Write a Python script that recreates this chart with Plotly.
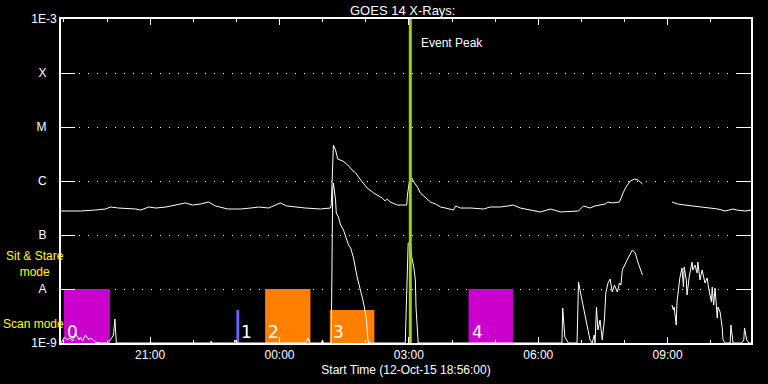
import pandas as pd
import plotly.graph_objects as go

START = pd.Timestamp("2015-10-12 18:56:00")

# ---- GOES long channel (1-8 A): minutes after start, flux W/m^2 ----
long_min = [0, 14, 27, 48, 62, 69, 80, 104, 111, 122, 132, 146, 166, 173, 183, 194, 205, 215,
            232, 250, 264, 275, 289, 305, 314, 326, 340, 361, 372, 375, 376, 378, 379, 382, 385,
            392, 399, 405, 410, 417, 426, 435, 447, 451, 454, 458, 468, 481, 482, 485, 488, 490,
            496, 500, 507, 514, 521, 528, 535, 542, 546, 549, 556, 570, 588, 597, 611, 622, 629,
            639, 653, 667, 681, 695, 720, 727, 736, 743, 757, 761, 767, 777, 782, 786, 792, 798,
            803, 809, 830, 850, 858, 868, 878, 889, 903, 914, 924, 931, 935, 940, 952, 960]
long_flux = [2.78e-7, 2.78e-7, 2.78e-7, 2.90e-7, 3.03e-7, 3.30e-7, 3.16e-7, 3.03e-7, 2.90e-7,
             3.30e-7, 3.16e-7, 3.30e-7, 3.75e-7, 3.92e-7, 3.59e-7, 3.75e-7, 4.08e-7, 3.45e-7,
             3.03e-7, 3.03e-7, 3.16e-7, 3.30e-7, 3.16e-7, 3.92e-7, 3.45e-7, 3.30e-7, 3.16e-7,
             3.03e-7, 3.16e-7, 3.16e-7, 3.59e-7, 2.45e-6, 4.64e-6, 3.75e-6, 2.55e-6,
             2.35e-6, 1.98e-6, 1.60e-6, 1.41e-6, 1.04e-6, 7.4e-7, 6.0e-7, 4.84e-7, 4.26e-7, 4.64e-7,
             4.08e-7, 3.59e-7, 3.59e-7, 5.5e-7, 1.04e-6, 1.14e-6, 1.0e-6,
             7.7e-7, 6.0e-7, 4.84e-7, 4.08e-7, 3.75e-7, 3.30e-7, 3.16e-7, 3.03e-7, 2.90e-7,
             3.45e-7, 3.16e-7, 3.16e-7, 3.03e-7, 3.30e-7, 3.30e-7, 3.45e-7, 3.59e-7,
             3.16e-7, 2.90e-7, 2.67e-7, 3.03e-7, 2.67e-7, 2.78e-7, 3.45e-7, 3.16e-7, 3.45e-7,
             3.75e-7, 4.08e-7, 3.92e-7, 4.08e-7, 6.0e-7, 7.7e-7, 1.0e-6, 1.09e-6,
             1.04e-6, 8.8e-7, None, 4.08e-7, 3.75e-7, 3.59e-7, 3.45e-7, 3.30e-7, 3.16e-7, 3.03e-7,
             2.78e-7, 2.90e-7, 3.03e-7, 2.90e-7, 2.78e-7, 2.90e-7]

# ---- GOES short channel (0.5-4 A) ----
short_min = [0, 2, 5, 8, 13, 16, 20, 25, 27, 30, 34, 39, 41, 48, 55, 66, 69, 72, 73, 75, 76, 77,
             208, 209, 210, 241, 242, 244, 340, 344, 346, 362, 364, 365, 375, 376, 378, 379, 382,
             383, 386, 389, 393, 396, 400, 403, 407, 412, 417, 420, 422, 425, 427, 428,
             479, 480, 483, 486, 488, 491, 493, 494, 496, 497,
             697, 698, 701, 706, 718, 720, 722, 725, 729, 733, 736, 739, 742, 743, 745, 747, 750,
             753, 756, 758, 761, 764, 767, 770, 774, 777, 779, 781, 785, 789, 795, 799, 803, 806,
             809, 830,
             850, 852, 853, 856, 857, 859, 861, 864, 866, 867, 870, 871, 874, 878, 879, 882, 885,
             886, 889, 892, 896, 899, 901, 905, 906, 908, 910, 913, 914, 917, 920, 921, 924, 931,
             932, 935, 947, 950, 951, 954, 957, 960]
short_flux = [1.0e-9, 1.14e-9, 1.29e-9, 1.14e-9, 1.24e-9, 1.09e-9, 1.53e-9, 1.14e-9, 1.29e-9,
              1.09e-9, 1.41e-9, 1.14e-9, 1.24e-9, 1.04e-9, 1.0e-9, 1.0e-9, 1.14e-9, 1.29e-9,
              1.41e-9, 2.78e-9, 1.74e-9, 1.0e-9,
              1.0e-9, 1.09e-9, 1.0e-9, 1.0e-9, 1.14e-9, 1.0e-9, 1.0e-9, 1.24e-9, 1.0e-9,
              1.0e-9, 1.14e-9, 1.0e-9, 1.0e-9, 1.0e-9, 6.8e-7, 9.2e-7, 4.45e-7,
              2.55e-7, 2.15e-7, 1.53e-7, 1.24e-7, 9.2e-8, 6.54e-8, 5.74e-8, 3.75e-8, 1.67e-8,
              9.6e-9, 6.25e-9, 4.64e-9, 2.67e-9, 1.14e-9, 1.0e-9,
              1.0e-9, 4.08e-9, 7.11e-8, 7.11e-8, 3.92e-8, 2.45e-8, 1.47e-8, 4.45e-9, 1.14e-9, 1.0e-9,
              1.0e-9, 4.45e-9, 1.29e-9, 1.0e-9, 1.0e-9, 1.35e-8, 9.6e-9, 6.25e-9, 3.03e-9,
              1.74e-9, 1.14e-9, 1.0e-9, 1.41e-9, 1.0e-9, 4.64e-9, 1.74e-9, 2.67e-9,
              1.14e-9, 2.67e-9, 8.4e-9, 1.29e-8, 1.53e-8, 8.8e-9, 1.18e-8, 8.8e-9, 1.29e-8,
              1.18e-8, 2.25e-8, 3.03e-8, 3.75e-8, 5.27e-8, 4.64e-8, 3.03e-8, 2.25e-8,
              1.82e-8, None,
              5.05e-9, 4.08e-9, 4.64e-9, 2.15e-9, 5.74e-9, 1.09e-8, 1.60e-8, 2.45e-8, 1.09e-8,
              2.55e-8, 1.47e-8, 7.74e-9, 1.67e-8, 3.16e-8, 2.25e-8, 2.78e-8, 1.98e-8,
              3.16e-8, 1.47e-8, 2.25e-8, 1.29e-8, 1.60e-8, 1.04e-8, 5.74e-9, 1.09e-8, 5.05e-9,
              1.04e-8, 2.90e-9, 4.64e-9, 3.75e-9, 1.90e-9, 1.14e-9, 1.0e-9, 1.0e-9,
              2.15e-9, 1.0e-9, 1.0e-9, 1.14e-9, 1.90e-9, 1.14e-9, 1.0e-9, 1.0e-9]

# ---- observing-mode blocks ----
mode_labels = ["0", "1", "2", "3", "4"]
mode_start_min = [4, 244, 284, 374, 567]
mode_end_min = [68, 248, 347, 436, 629]
mode_top = [1e-8, 4.1e-9, 1e-8, 4.1e-9, 1e-8]
mode_colors = ["#cc00cc", "#6464ff", "#ff8000", "#ff8000", "#cc00cc"]

event_peak_min = 486
span_min = 960

y_tickvals = [1e-9, 1e-8, 1e-7, 1e-6, 1e-5, 1e-4, 1e-3]
y_ticktext = ["1E-9", "A", "B", "C", "M", "X", "1E-3"]


def t(m):
    return START + pd.Timedelta(minutes=m)


fig = go.Figure()

# mode blocks
for lab, s, e, top, col in zip(mode_labels, mode_start_min, mode_end_min, mode_top, mode_colors):
    fig.add_trace(go.Scatter(
        x=[t(s), t(e), t(e), t(s), t(s)],
        y=[1e-9, 1e-9, top, top, 1e-9],
        fill="toself", fillcolor=col, mode="none", hoverinfo="skip"))
    fig.add_annotation(x=t(s), y=0, xref="x", yref="paper", text=lab, showarrow=False,
                       xanchor="left", yanchor="bottom", xshift=1 if lab != "1" else 3, yshift=-1,
                       font=dict(family="DejaVu Sans", size=17, color="white"))

fig.add_trace(go.Scatter(x=[t(m) for m in long_min], y=long_flux, mode="lines",
                         line=dict(color="white", width=1), connectgaps=False))
fig.add_trace(go.Scatter(x=[t(m) for m in short_min], y=short_flux, mode="lines",
                         line=dict(color="white", width=1), connectgaps=False))

fig.add_trace(go.Scatter(x=[t(event_peak_min), t(event_peak_min)], y=[1e-9, 1e-3], mode="lines",
                         line=dict(color="#a0d010", width=3)))

font = dict(family="Liberation Sans", size=12, color="white")
yellow = dict(family="Liberation Sans", size=12, color="yellow")

fig.add_annotation(x=t(event_peak_min), y=(343 - 43) / 324, xref="x", yref="paper",
                   text="Event Peak", showarrow=False, xanchor="left", yanchor="middle",
                   xshift=9, font=font)
fig.add_annotation(x=(402 - 61) / 690, y=(343 - 10) / 324, xref="paper", yref="paper",
                   text="GOES 14 X-Rays:", showarrow=False, xanchor="center", yanchor="middle",
                   font=dict(family="Liberation Sans", size=13, color="white"))
fig.add_annotation(x=(35 - 61) / 690, y=(343 - 264) / 324, xref="paper", yref="paper",
                   text="Sit & Stare<br>mode", showarrow=False, xanchor="center", yanchor="middle",
                   font=yellow)
fig.add_annotation(x=(1 - 61) / 690, y=(343 - 324) / 324, xref="paper", yref="paper",
                   text="Scan mode", showarrow=False, xanchor="left", yanchor="middle",
                   font=yellow)

fig.update_layout(
    width=768, height=384,
    margin=dict(l=61, r=17, t=19, b=41, autoexpand=False),
    paper_bgcolor="black", plot_bgcolor="black",
    showlegend=False,
    font=font,
)
fig.update_xaxes(
    type="date", range=[START, t(span_min)], automargin=False,
    tickformat="%H:%M", dtick=3 * 3600 * 1000, tick0="2015-10-12 21:00",
    ticks="inside", ticklen=6, tickcolor="white", tickwidth=1,
    minor=dict(dtick=3600 * 1000, tick0="2015-10-12 19:00", ticks="inside", ticklen=3,
               tickcolor="white", showgrid=False),
    showline=True, linecolor="white", linewidth=2, mirror="ticks",
    showgrid=False, zeroline=False,
    tickfont=font,
    title=dict(text="Start Time (12-Oct-15 18:56:00)", font=font, standoff=4),
)
fig.update_yaxes(
    type="log", range=[-9, -3], automargin=False,
    tickvals=y_tickvals,
    ticktext=[s if s.startswith("1E") else s + "\u00a0\u00a0\u00a0" for s in y_ticktext],
    ticks="inside", ticklen=14, tickcolor="white", tickwidth=1,
    showline=True, linecolor="white", linewidth=2, mirror="ticks",
    showgrid=True, gridcolor="white", gridwidth=1, griddash="1px,8px",
    zeroline=False, tickfont=font,
)

fig.write_html("out.html", config={"displayModeBar": False},
               post_script="document.body.style.margin='0';document.body.style.background='black';")
